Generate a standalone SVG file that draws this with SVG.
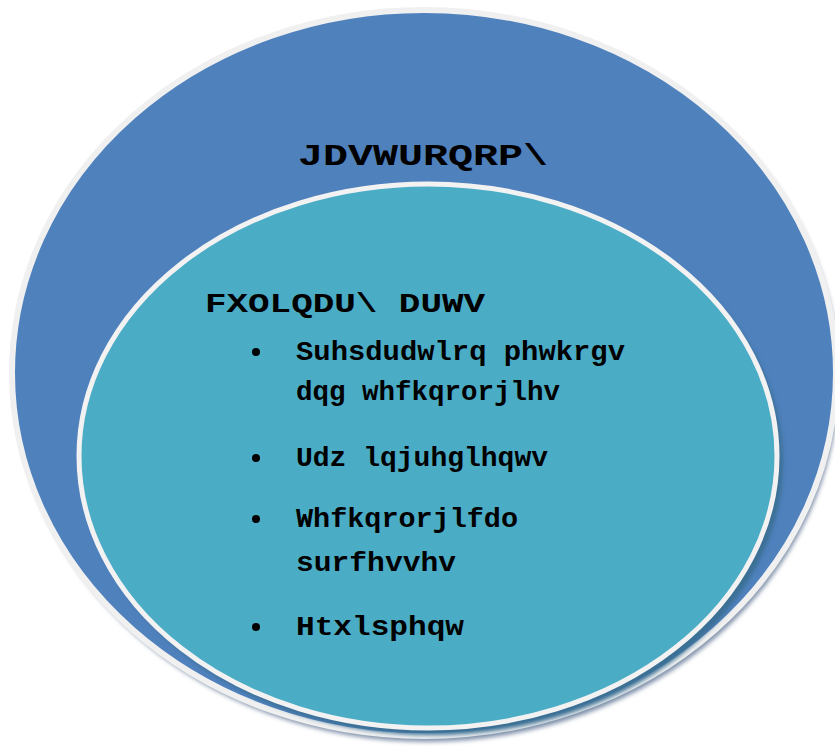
<svg xmlns="http://www.w3.org/2000/svg" width="835" height="747" viewBox="0 0 835 747">
<defs>
<filter id="sh" x="-10%" y="-10%" width="120%" height="120%"><feGaussianBlur stdDeviation="2"/></filter>
</defs>
<style>
.t{font-family:"Liberation Mono","Courier New",monospace;font-weight:bold;fill:#000}
.b{fill:#000}
</style>
<rect width="835" height="747" fill="#fff"/>
<g id="outer">
<ellipse cx="427" cy="378" rx="412" ry="364" fill="#8595ad" filter="url(#sh)"/>
<ellipse cx="424" cy="373" rx="412" ry="363" fill="#4f81bd" stroke="#f0f0f0" stroke-width="6"/>
<text class="t" x="298" y="165" font-size="29" textLength="250" lengthAdjust="spacingAndGlyphs">JDVWURQRP\</text>
</g>
<g id="inner">
<ellipse cx="433" cy="462" rx="350" ry="273" fill="#3a6f94" filter="url(#sh)"/>
<ellipse cx="428" cy="456" rx="349" ry="272" fill="#4bacc6" stroke="#f2f2f2" stroke-width="5"/>
<text class="t" x="205" y="312" font-size="28" textLength="280" lengthAdjust="spacingAndGlyphs">FXOLQDU\ DUWV</text>
<g class="b">
<circle cx="256" cy="352" r="4"/>
<circle cx="256" cy="458" r="4"/>
<circle cx="256" cy="519" r="4"/>
<circle cx="256" cy="627" r="4"/>
</g>
<text class="t" x="296" y="360" font-size="28" textLength="329" lengthAdjust="spacingAndGlyphs">Suhsdudwlrq phwkrgv</text>
<text class="t" x="296" y="400" font-size="28" textLength="264" lengthAdjust="spacingAndGlyphs">dqg whfkqrorjlhv</text>
<text class="t" x="296" y="466" font-size="28" textLength="252" lengthAdjust="spacingAndGlyphs">Udz lqjuhglhqwv</text>
<text class="t" x="296" y="527" font-size="28" textLength="222" lengthAdjust="spacingAndGlyphs">Whfkqrorjlfdo</text>
<text class="t" x="296" y="571" font-size="28" textLength="160" lengthAdjust="spacingAndGlyphs">surfhvvhv</text>
<text class="t" x="296" y="635" font-size="28" textLength="168" lengthAdjust="spacingAndGlyphs">Htxlsphqw</text>
</g>
<g id="connectors"/>
</svg>
